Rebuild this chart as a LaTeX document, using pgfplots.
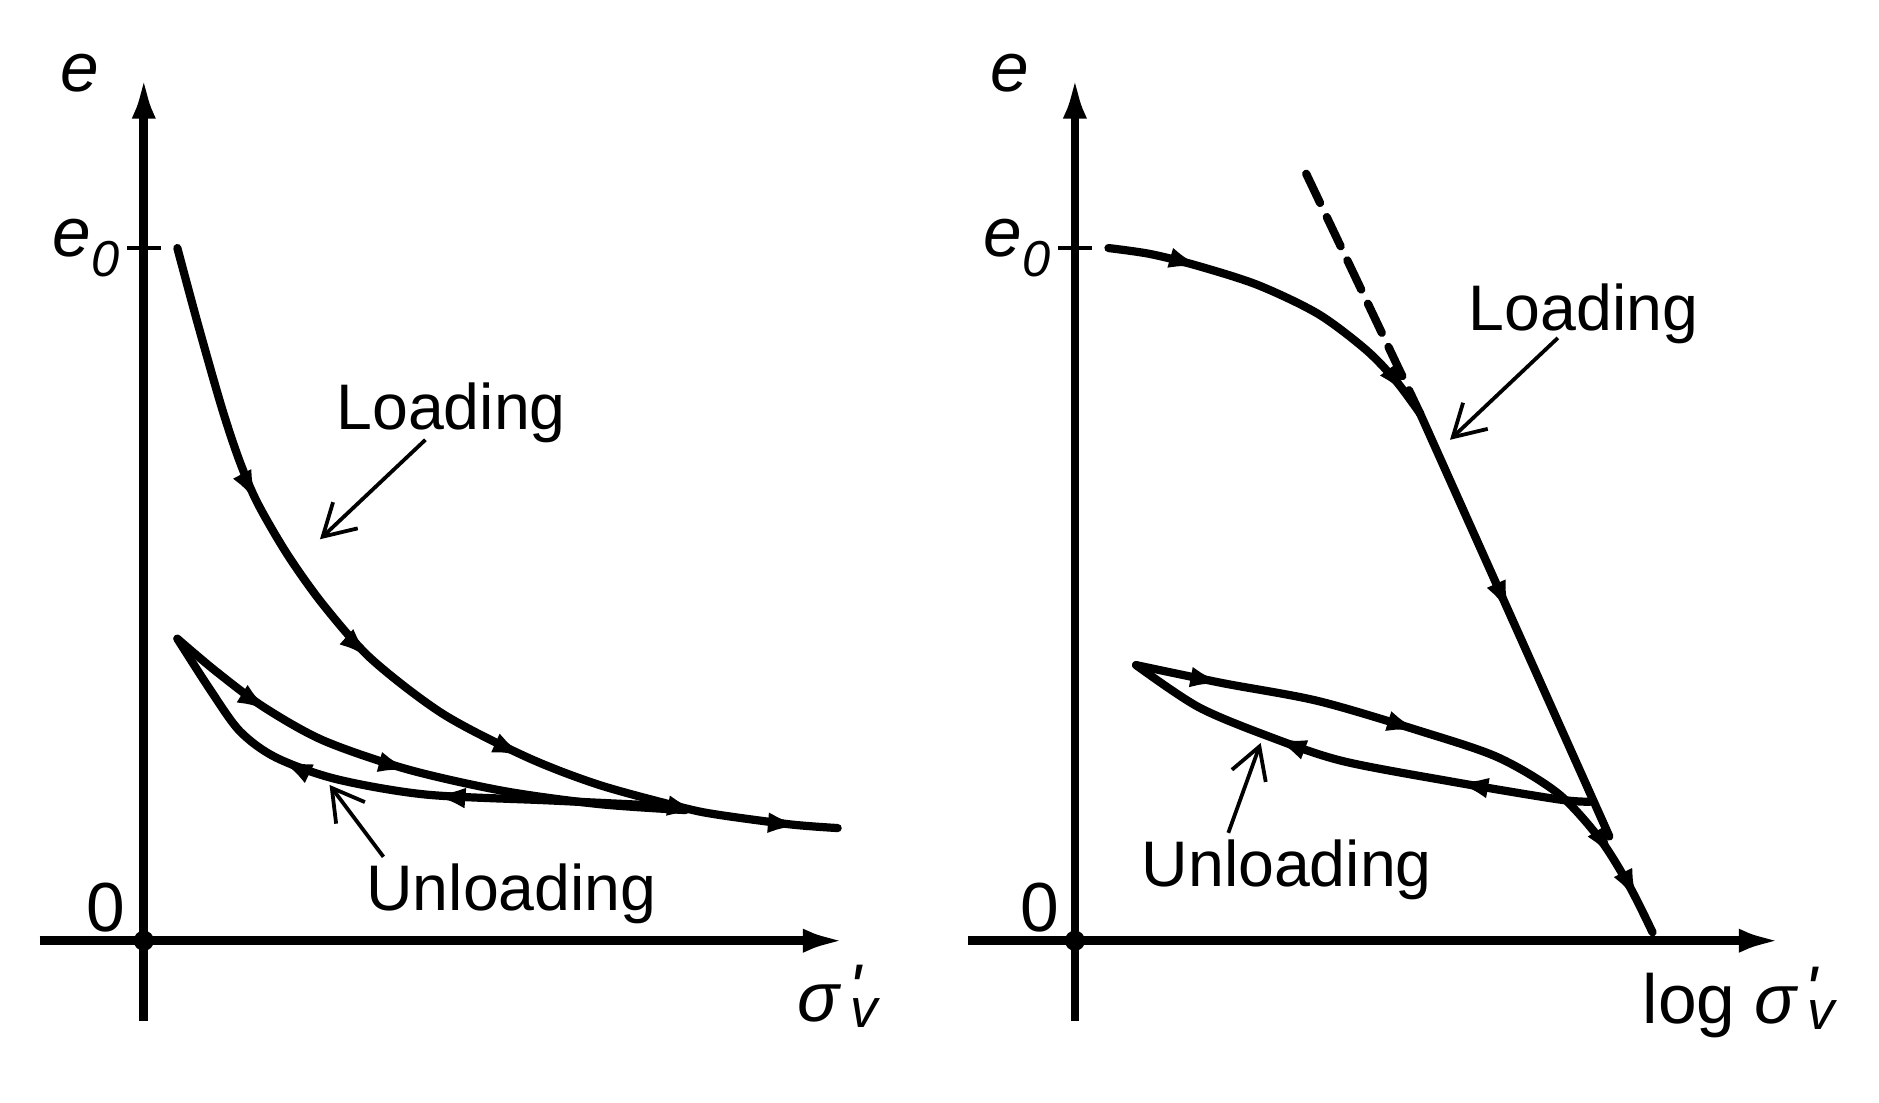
\documentclass[border=0pt]{standalone}
\usepackage{fontspec}
\setmainfont{Liberation Sans}
\usepackage{pgfplots}
\pgfplotsset{compat=1.18}
\usetikzlibrary{arrows.meta,decorations.markings}

% one small arrowhead on a curve, at a fraction of its length
\tikzset{
  mk/.style={postaction={decorate,decoration={markings,
    mark=at position #1 with {\arrow{Latex[length=0.3cm,width=0.17cm]}}}}},
  curve/.style={black, line width=1.95pt, line cap=round, line join=round},
  note/.style={black, line width=0.9pt, -{Straight Barb[length=0.26cm,width=0.3cm]}},
}
\newcommand{\bigf}{\fontsize{16.5}{19}\selectfont}
\newcommand{\lab}{\fontsize{15.3}{18}\selectfont}
\newcommand{\sml}{\fontsize{12}{14}\selectfont}
\newcommand{\ezero}{\textit{e}\raisebox{-0.28em}{\sml\textit{0}}}
\newcommand{\sigv}{\textit{σ}\hspace{0.12em}\makebox[0pt][l]{\hspace{-0.03em}\raisebox{0.14em}{\fontsize{16}{16}\selectfont\textit{\textquotesingle}}}\raisebox{-0.09em}{\fontsize{13}{14}\selectfont\textit{v}}}

\pgfplotsset{
  schem/.style={
    scale only axis, height=7.89cm, anchor=south west,
    ymin=-67, ymax=722,
    axis lines=middle,
    axis line style={line width=2.1pt, -{Latex[length=0.36cm,width=0.2cm]}},
    xtick=\empty, ytick={578}, yticklabels={\ezero},
    major tick length=0.28cm,
    tick style={black, line width=1pt},
    yticklabel style={font=\bigf, inner sep=1pt, xshift=-0.02cm},
    clip=false,
  },
}

\begin{document}
\begin{tikzpicture}
\path[use as bounding box] (0,0) rectangle (15.68,9.2);

% linear scale
\begin{axis}[schem, at={(0.33cm,0.68cm)}, width=6.73cm, xmin=-87, xmax=586]
  \addplot[curve, smooth, mk=0.28, mk=0.48, mk=0.67, mk=0.86, mk=0.965] coordinates {
    (28,578) (45,515) (65,445) (80,400) (95,365) (120,322) (150,280)
    (190,235) (250,189) (320,153) (380,130) (450,111) (480,105)
    (540,97) (579,94)
  };
  \addplot[curve, smooth, mk=0.22, mk=0.5] coordinates {
    (28,252) (60,225) (100,195) (150,167) (220,143) (300,125)
    (380,114) (452,109)
  };
  \addplot[curve, smooth, mk=0.44, mk=0.72] coordinates {
    (445,112) (340,117) (235,122) (160,135) (110,153) (80,175)
    (55,210) (28,252)
  };
  \addplot[only marks, mark=*, mark size=2.2pt, black] coordinates {(0,0)};
  \node[font=\bigf] at (axis cs:-53,724) {\textit{e}};
  \node[font=\bigf] at (axis cs:-32,28) {0};
  \node[font=\bigf, inner sep=0pt, anchor=base west] at (axis cs:545,-67) {\sigv};
  \node[font=\lab, inner sep=0pt, anchor=base west] at (axis cs:160,427) {Loading};
  \node[font=\lab, inner sep=0pt, anchor=base west] at (axis cs:185,25) {Unloading};
  \draw[note] (axis cs:235,418) -- (axis cs:147,335);
  \draw[note] (axis cs:200,70) -- (axis cs:155,130);
\end{axis}

% log scale
\begin{axis}[schem, at={(8.08cm,0.68cm)}, width=6.79cm, xmin=-89, xmax=590]
  \addplot[curve, smooth, mk=0.27, mk=0.95] coordinates {
    (28,578) (63,573) (103,563) (153,547) (203,523) (243,493)
    (268,467) (288,440)
  };
  \addplot[curve, mk=0.48] coordinates {(288,440) (446,87)};
  \addplot[curve, dash pattern=on 0.27cm off 0.13cm] coordinates {(193,640) (288,440)};
  \addplot[curve, smooth, mk=0.15, mk=0.48, mk=0.87, mk=0.95] coordinates {
    (51,230) (123,215) (203,200) (288,175) (353,153) (403,123)
    (438,85) (463,45) (482,7)
  };
  \addplot[curve, smooth, mk=0.29, mk=0.68] coordinates {
    (430,116) (403,118) (313,133) (223,150) (163,170) (103,195) (51,230)
  };
  \addplot[only marks, mark=*, mark size=2.2pt, black] coordinates {(0,0)};
  \node[font=\bigf] at (axis cs:-54,724) {\textit{e}};
  \node[font=\bigf] at (axis cs:-29,28) {0};
  \node[font=\bigf, inner sep=0pt, anchor=base west] at (axis cs:473,-69) {log \sigv};
  \node[font=\lab, inner sep=0pt, anchor=base west] at (axis cs:328,509) {Loading};
  \node[font=\lab, inner sep=0pt, anchor=base west] at (axis cs:55,45) {Unloading};
  \draw[note] (axis cs:403,503) -- (axis cs:313,418);
  \draw[note] (axis cs:128,90) -- (axis cs:155,165);
\end{axis}
\end{tikzpicture}
\end{document}
